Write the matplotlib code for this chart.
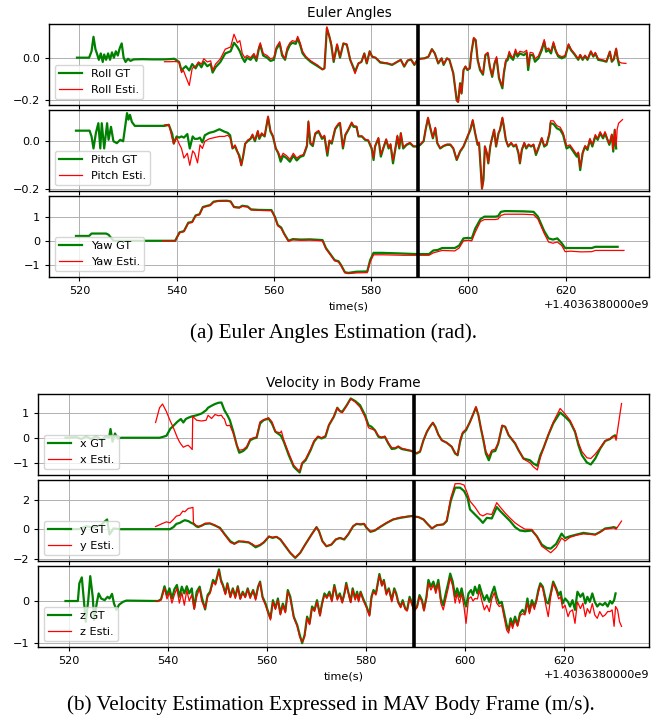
import numpy as np
import matplotlib.pyplot as plt

plt.rcParams['font.size'] = 8.1
plt.rcParams['axes.linewidth'] = 1.0
plt.rcParams['grid.linewidth'] = 0.7
plt.rcParams['xtick.major.size'] = 2.8
plt.rcParams['ytick.major.size'] = 2.8

TIME_OFFSET = "+1.4036380000e9"
SWITCH_T = 589.6   # vision switched on
XLIM = (513.75, 637.15)

# ---------------- Euler angles (rad) ----------------
t_roll = [519.5, 522.0, 522.5, 522.9, 523.3, 523.6, 524.0, 524.4, 524.8, 525.1,
          525.5, 525.9, 526.3, 526.7, 527.1, 527.5, 527.9, 528.3, 528.7, 529.1,
          529.5, 530.0, 530.5, 531.2, 533.0, 535.0, 537.5, 538.5, 539.5, 540.5,
          541.0, 541.4, 541.9, 542.6, 543.2, 543.9, 544.5, 545.1, 545.6, 546.3,
          547.0, 547.4, 548.0, 549.0, 550.0, 551.1, 551.8, 552.5, 553.0, 553.5,
          554.0, 554.5, 555.2, 555.9, 556.4, 556.9, 557.2, 557.8, 558.6, 559.3,
          560.0, 560.5, 561.2, 561.7, 562.3, 562.7, 563.3, 563.8, 564.5, 564.9,
          565.4, 565.9, 566.6, 567.6, 569.0, 570.0, 570.4, 570.9, 571.4, 571.8,
          572.3, 573.0, 573.6, 574.3, 575.0, 575.7, 576.7, 577.4, 578.0, 578.6,
          579.1, 579.7, 580.2, 580.9, 581.9, 583.3, 584.3, 585.4, 586.1, 586.8,
          587.5, 588.2, 588.9, 589.6, 591.0, 591.8, 592.5, 593.1, 593.8, 594.5,
          594.9, 595.6, 596.1, 596.9, 597.6, 597.9, 598.3, 598.6, 599.0, 599.4,
          599.8, 600.3, 600.6, 601.1, 601.5, 601.9, 602.4, 603.0, 603.5, 604.0,
          604.4, 604.9, 605.4, 605.8, 606.3, 607.0, 607.3, 607.7, 608.1, 608.4,
          608.8, 609.2, 609.7, 610.1, 610.6, 611.4, 612.0, 612.3, 612.7, 613.3,
          613.7, 614.4, 615.1, 615.6, 616.0, 616.5, 617.0, 617.5, 618.0, 618.5,
          619.2, 619.9, 620.6, 621.1, 621.9, 622.6, 623.0, 623.5, 624.0, 624.5,
          625.2, 625.7, 626.1, 626.7, 627.6, 628.4, 629.1, 629.5, 629.9, 630.4,
          630.7, 631.0, 631.5, 632.4]
roll_gt = [0.0, 0.0, 0.03, 0.098, 0.04, 0.02, -0.01, 0.02, -0.02, 0.015,
           -0.01, 0.02, -0.01, 0.025, 0.0, 0.03, 0.01, 0.045, 0.067, 0.0,
           -0.02, -0.005, -0.015, -0.008, -0.007, -0.008, -0.008, -0.007, -0.005, -0.02,
           -0.06, -0.05, -0.04, -0.06, -0.03, -0.05, -0.025, -0.045, -0.02, -0.04,
           -0.03, -0.07, -0.045, -0.02, 0.02, 0.03, 0.07, 0.05, 0.03, 0.0,
           -0.02, 0.0, -0.01, 0.01, -0.015, 0.04, 0.06, 0.01, 0.0, -0.015,
           -0.01, 0.04, 0.065, 0.01, -0.01, 0.03, 0.06, 0.07, 0.065, 0.09,
           0.06, 0.02, 0.0, -0.02, -0.04, -0.055, -0.05, 0.138, 0.1, 0.06,
           -0.02, 0.06, 0.0, 0.067, 0.06, -0.01, -0.065, -0.027, -0.02, 0.02,
           -0.027, 0.03, 0.005, 0.0, -0.023, -0.027, -0.034, -0.019, -0.01, -0.042,
           -0.014, -0.008, -0.034, -0.006, -0.003, 0.005, 0.04, 0.02, -0.027, -0.003,
           -0.034, -0.003, -0.01, -0.073, -0.2, -0.206, -0.12, -0.167, -0.058, -0.042,
           -0.058, -0.05, 0.02, 0.09, 0.082, -0.01, -0.058, -0.08, 0.012, 0.02,
           -0.042, -0.09, -0.027, -0.003, -0.097, -0.144, -0.073, -0.019, -0.01, 0.02,
           0.0, -0.01, 0.028, 0.005, 0.02, 0.012, 0.023, -0.058, 0.012, 0.012,
           -0.019, -0.003, 0.036, 0.075, 0.028, 0.036, 0.02, 0.067, 0.028, 0.005,
           -0.003, 0.005, 0.06, 0.036, 0.013, -0.01, 0.012, -0.01, 0.008, -0.01,
           0.028, 0.005, 0.02, -0.01, -0.014, -0.019, 0.028, -0.019, -0.008, 0.04,
           -0.005, -0.034, None, None]
roll_est = [None] * 26 + [
           -0.019, -0.019, -0.018, -0.02,
           -0.07, -0.06, -0.09, -0.13, -0.05, -0.04, -0.02, -0.03, -0.005, -0.02,
           -0.015, -0.06, -0.03, -0.005, 0.04, 0.05, 0.11, 0.07, 0.08, 0.02,
           0.0, 0.01, 0.0, 0.02, -0.005, 0.05, 0.07, 0.02, 0.01, -0.005,
           0.0, 0.05, 0.075, 0.02, -0.005, 0.045, 0.07, 0.08, 0.075, 0.1,
           0.07, 0.03, 0.005, -0.015, -0.035, -0.055, -0.05, 0.145, 0.1, 0.07,
           -0.015, 0.065, 0.005, 0.067, 0.065, -0.01, -0.075, -0.025, -0.02, 0.02,
           -0.025, 0.03, 0.005, 0.0, -0.02, -0.025, -0.032, -0.018, -0.01, -0.04,
           -0.012, -0.008, -0.032, -0.006, -0.003, 0.005, 0.04, 0.02, -0.025, -0.003,
           -0.03, -0.003, -0.01, -0.075, -0.2, -0.21, -0.12, -0.17, -0.058, -0.04,
           -0.055, -0.048, 0.02, 0.095, 0.085, -0.005, -0.05, -0.075, 0.015, 0.025,
           -0.035, -0.085, -0.02, 0.005, -0.09, -0.135, -0.065, -0.01, 0.0, 0.03,
           0.01, 0.0, 0.04, 0.015, 0.03, 0.025, 0.035, -0.04, 0.025, 0.022,
           -0.005, 0.008, 0.048, 0.085, 0.04, 0.045, 0.03, 0.075, 0.035, 0.012,
           0.005, 0.01, 0.065, 0.04, 0.018, -0.005, 0.015, -0.005, 0.012, -0.005,
           0.032, 0.008, 0.025, -0.005, -0.01, -0.015, 0.03, -0.015, -0.005, 0.045,
           0.0, -0.02, -0.025, -0.027]

t_pitch = [519.3, 522.1, 522.5, 522.9, 523.4, 523.9, 524.3, 524.6, 525.1, 525.7,
           526.0, 526.5, 527.0, 527.7, 528.4, 529.0, 529.4, 529.8, 530.1, 530.4,
           530.8, 531.4,
           537.5, 538.4, 539.1, 539.4, 540.0, 540.5, 541.0, 541.5, 542.2, 542.7,
           543.3, 543.7, 544.3, 544.8, 545.3, 545.8, 546.7, 547.7, 548.8, 549.8,
           550.5, 551.0, 551.5, 552.0, 552.4, 552.9, 553.3, 553.7, 554.1, 554.6,
           555.2, 555.6, 556.1, 556.7, 557.0, 557.5, 558.1, 558.8, 559.3, 559.8,
           560.4, 560.9, 561.4, 561.9, 562.6, 563.3, 564.0, 564.7, 565.4, 566.1,
           566.8, 567.1, 567.5, 568.0, 568.5, 569.2, 569.9, 570.4, 571.0, 571.4,
           571.9, 572.6, 573.3, 573.6, 574.2, 574.7, 575.3, 576.0, 576.4, 577.0,
           577.4, 578.1, 578.8, 579.4, 580.1, 580.5, 580.8, 581.5, 582.0, 582.5,
           583.1, 583.6, 584.0, 584.5, 585.0, 585.4, 585.8, 586.1, 586.6, 587.3,
           588.0, 588.7, 589.4, 590.1, 590.8, 591.2, 591.7, 592.1, 592.7, 593.2,
           593.6, 594.2, 594.9, 595.6, 596.3, 596.9, 597.6, 598.3, 599.0, 599.7,
           600.4, 600.9, 601.4, 601.9, 602.2, 602.5, 602.8, 603.1, 603.4, 603.8,
           604.1, 604.5, 604.8, 605.3, 605.7, 606.2, 606.5, 607.0, 607.3, 607.7,
           608.2, 608.8, 609.3, 609.8, 610.3, 610.6, 611.0, 611.5, 611.9, 612.4,
           612.9, 613.4, 613.9, 614.4, 615.1, 615.6, 616.1, 616.7, 616.9, 617.5,
           618.2, 618.9, 619.5, 620.2, 620.9, 621.6, 622.3, 622.6, 623.0, 623.5,
           624.0, 624.5, 625.0, 625.5, 626.1, 626.6, 627.1, 627.7, 628.1, 628.6,
           629.0, 629.5, 629.8, 630.1, 630.4, 630.6, 630.9, 631.7]
pitch_gt = [0.044, 0.044, 0.02, -0.03, 0.035, 0.075, -0.03, 0.075, -0.03, 0.075,
            0.006, 0.06, 0.0, -0.008, 0.006, 0.0, 0.06, 0.117, 0.09, 0.11,
            0.08, 0.064,
            0.064, 0.068, 0.03, -0.01, 0.02, 0.015, 0.02, 0.015, 0.03, -0.03,
            0.02, 0.01, 0.01, 0.015, -0.005, 0.025, 0.035, 0.04, 0.05, 0.04,
            0.035, 0.025, -0.03, -0.02, -0.04, -0.06, -0.1, -0.06, -0.01, 0.0,
            0.01, 0.025, 0.0, 0.04, 0.01, 0.03, 0.02, 0.1, 0.04, 0.02,
            -0.03, -0.05, -0.085, -0.06, -0.07, -0.085, -0.06, -0.08, -0.065, -0.06,
            -0.02, 0.08, -0.01, -0.02, 0.03, 0.04, 0.01, 0.02, -0.06, 0.0,
            -0.01, 0.05, 0.07, 0.075, -0.03, 0.025, 0.047, 0.075, 0.06, 0.06,
            0.02, 0.02, 0.005, 0.003, -0.03, -0.078, -0.022, 0.012, -0.064, -0.03,
            0.006, -0.03, -0.015, -0.092, -0.03, 0.02, -0.03, 0.033, -0.03, -0.015,
            -0.008, -0.022, -0.022, -0.015, 0.0, 0.047, 0.096, 0.06, 0.012, 0.054,
            -0.008, -0.03, -0.02, -0.015, -0.015, -0.03, -0.078, -0.043, -0.022, 0.012,
            0.047, 0.086, 0.033, -0.015, -0.008, -0.105, -0.196, -0.161, -0.022, -0.05,
            -0.092, -0.022, 0.006, 0.047, -0.022, 0.033, 0.047, 0.096, 0.06, 0.006,
            -0.022, -0.008, -0.022, -0.015, -0.05, -0.092, -0.036, -0.008, -0.03, -0.015,
            -0.022, -0.015, -0.057, -0.03, 0.012, -0.022, -0.015, 0.033, 0.075, 0.072,
            0.054, 0.047, 0.026, -0.03, -0.022, -0.043, -0.064, -0.05, -0.12, -0.05,
            -0.022, -0.036, 0.006, -0.022, 0.02, 0.006, 0.033, 0.012, 0.033, 0.006,
            -0.015, 0.026, -0.043, 0.047, -0.03, None, None, None]
pitch_est = [None] * 22 + [
            0.068, 0.07, 0.01, -0.01, 0.015, -0.01, -0.03, -0.07, -0.05, -0.1,
            -0.04, -0.05, -0.09, -0.015, -0.03, 0.0, 0.01, 0.015, 0.02, 0.02,
            0.025, 0.015, -0.03, -0.015, -0.035, -0.07, -0.1, -0.06, -0.01, 0.005,
            0.012, 0.03, 0.005, 0.045, 0.015, 0.035, 0.022, 0.105, 0.045, 0.025,
            -0.03, -0.045, -0.07, -0.05, -0.06, -0.075, -0.05, -0.07, -0.06, -0.055,
            -0.015, 0.085, -0.005, -0.015, 0.035, 0.045, 0.015, 0.025, -0.05, 0.005,
            -0.005, 0.055, 0.075, 0.078, -0.025, 0.03, 0.05, 0.08, 0.065, 0.062,
            0.022, 0.022, 0.008, 0.005, -0.025, -0.07, -0.02, 0.015, -0.055, -0.025,
            0.01, -0.025, -0.01, -0.08, -0.025, 0.025, -0.025, 0.035, -0.025, -0.012,
            -0.005, -0.02, -0.02, -0.012, 0.002, 0.05, 0.1, 0.065, 0.015, 0.058,
            -0.005, -0.028, -0.018, -0.012, -0.012, -0.028, -0.075, -0.04, -0.02, 0.015,
            0.05, 0.09, 0.035, -0.012, -0.005, -0.1, -0.2, -0.16, -0.02, -0.048,
            -0.09, -0.02, 0.008, 0.05, -0.02, 0.035, 0.05, 0.1, 0.065, 0.008,
            -0.02, -0.005, -0.02, -0.012, -0.045, -0.09, -0.032, -0.005, -0.025, -0.012,
            -0.02, -0.012, -0.05, -0.025, 0.015, -0.018, -0.01, 0.04, 0.085, 0.085,
            0.065, 0.058, 0.035, -0.02, -0.015, -0.035, -0.055, -0.045, -0.11, -0.045,
            -0.018, -0.03, 0.012, -0.015, 0.028, 0.012, 0.04, 0.018, 0.04, 0.01,
            -0.01, 0.03, -0.035, 0.05, -0.02, 0.05, 0.075, 0.09]

t_yaw = [519.3, 522.0, 522.5, 525.5, 526.0, 527.0,
         537.1, 539.7, 540.6, 541.5, 542.4, 543.2, 543.9, 544.7, 545.4, 546.3,
         546.9, 547.6, 548.5, 550.3, 551.1, 551.8, 552.9, 553.5, 554.6, 555.3,
         556.8, 559.5, 560.2, 560.8, 561.5, 562.1, 563.0, 563.9, 565.6, 567.4,
         570.0, 570.7, 571.6, 572.5, 573.3, 573.8, 574.6, 575.3, 577.0, 579.2,
         579.8, 580.5, 582.3, 586.7, 589.3, 591.9, 592.8, 593.7, 594.6, 597.2,
         598.1, 599.0, 599.9, 600.7, 601.4, 602.5, 603.3, 605.5, 606.1, 606.7,
         607.5, 611.2, 613.4, 614.3, 615.6, 616.5, 617.4, 618.3, 619.2, 619.9,
         621.0, 623.2, 625.4, 626.1, 630.7, 632.0]
yaw_gt = [0.2, 0.2, 0.3, 0.3, 0.25, 0.0,
          0.0, 0.0, 0.35, 0.4, 0.75, 0.78, 1.05, 1.1, 1.4, 1.45,
          1.48, 1.62, 1.65, 1.66, 1.63, 1.4, 1.38, 1.45, 1.42, 1.3,
          1.28, 1.27, 1.0, 0.65, 0.55, 0.3, 0.0, 0.07, 0.05, 0.06,
          0.03, -0.3, -0.55, -0.8, -0.85, -1.0, -1.3, -1.33, -1.28, -1.27,
          -0.8, -0.5, -0.5, -0.53, -0.55, -0.55, -0.4, -0.38, -0.3, -0.3,
          -0.2, 0.1, 0.12, 0.1, 0.5, 0.9, 1.0, 1.0, 1.02, 1.2,
          1.23, 1.22, 1.2, 1.0, 0.4, 0.1, 0.05, 0.1, -0.1, -0.3,
          -0.3, -0.3, -0.3, -0.25, -0.25, None]
yaw_est = [None] * 6 + [
          0.0, 0.0, 0.33, 0.38, 0.73, 0.76, 1.03, 1.08, 1.38, 1.43,
          1.46, 1.6, 1.64, 1.65, 1.62, 1.38, 1.36, 1.43, 1.4, 1.28,
          1.26, 1.25, 0.98, 0.62, 0.52, 0.28, -0.02, 0.04, 0.02, 0.03,
          0.0, -0.33, -0.58, -0.83, -0.88, -1.03, -1.33, -1.36, -1.33, -1.32,
          -0.88, -0.58, -0.58, -0.6, -0.6, -0.6, -0.5, -0.45, -0.4, -0.42,
          -0.3, 0.0, 0.02, 0.0, 0.35, 0.8, 0.88, 0.88, 0.9, 1.05,
          1.1, 1.1, 1.08, 0.9, 0.3, -0.05, -0.1, -0.05, -0.2, -0.45,
          -0.43, -0.46, -0.45, -0.4, -0.4, -0.4]

# ---------------- body-frame velocity (m/s) ----------------
t_vx = [519.3, 521.5, 522.5, 523.5, 524.5, 525.5, 526.5, 527.5, 528.1, 528.4,
        528.8, 529.3, 529.8, 530.6,
        537.5, 538.3, 538.9, 539.7, 540.5, 540.7, 541.2, 541.7, 541.9, 542.4,
        542.6, 543.1, 543.6, 544.1, 544.9, 545.0, 545.8, 546.8, 547.7, 548.1,
        548.8, 549.5, 550.2, 550.8, 551.1, 551.4, 551.8, 552.0, 552.5, 553.2,
        553.9, 554.4, 555.2, 555.9, 556.6, 557.3, 557.9, 558.6, 559.3, 560.3,
        561.0, 561.7, 562.7, 562.9, 563.4, 564.4, 565.4, 566.1, 566.6, 567.1,
        567.8, 568.8, 569.5, 570.3, 571.0, 571.8, 572.5, 573.5, 574.2, 574.7,
        575.2, 576.1, 576.9, 577.8, 578.8, 579.8, 580.5, 581.1, 581.8, 582.5,
        583.1, 583.8, 584.5, 585.2, 585.9, 586.5, 587.2, 588.2, 589.2, 590.2,
        590.9, 591.6, 592.3, 592.9, 593.5, 594.0, 594.6, 595.3, 596.3, 597.3,
        598.0, 598.5, 599.0, 599.5, 600.2, 601.0, 601.7, 602.2, 602.7, 603.2,
        603.7, 604.2, 604.8, 605.4, 606.1, 606.7, 607.5, 608.1, 608.8, 609.4,
        610.1, 610.8, 611.8, 613.1, 613.8, 614.6, 615.2, 615.8, 616.8, 617.8,
        619.2, 620.2, 621.2, 622.2, 622.9, 623.6, 624.6, 625.4, 626.3, 627.3,
        628.3, 629.3, 629.8, 630.3, 630.5, 631.6]
vx_gt = [0.0, 0.02, -0.05, 0.05, -0.05, 0.06, -0.08, 0.05, 0.0, 0.35,
         -0.16, 0.17, -0.03, 0.0,
         0.0, 0.0, 0.03, 0.08, 0.37, 0.4, 0.5, 0.6, 0.64, 0.72,
         0.75, 0.61, 0.75, 0.8, 0.86, 0.86, 0.9, 0.97, 1.1, 1.2,
         1.28, 1.35, 1.4, 1.41, 1.25, 1.1, 0.97, 0.9, 0.7, 0.24,
         -0.3, -0.6, -0.53, -0.4, -0.1, -0.03, 0.0, 0.57, 0.7, 0.77,
         0.57, 0.24, 0.1, 0.05, -0.16, -0.7, -1.16, -1.3, -1.39, -1.03,
         -0.9, -0.5, -0.16, 0.04, -0.03, 0.04, 0.5, 0.84, 1.2, 1.07,
         1.04, 1.3, 1.57, 1.47, 1.3, 0.9, 0.5, 0.44, 0.3, 0.04,
         0.0, 0.04, -0.23, -0.45, -0.43, -0.36, -0.45, -0.49, -0.53, -0.63,
         -0.56, -0.1, 0.24, 0.44, 0.6, 0.44, 0.13, -0.1, -0.2, -0.36,
         -0.63, -0.7, -0.16, 0.17, 0.3, 0.64, 0.97, 1.21, 0.9, 0.37,
         -0.1, -0.63, -0.9, -0.56, -0.53, -0.23, 0.48, 0.44, 0.1, -0.05,
         -0.23, -0.5, -0.83, -0.9, -1.03, -1.12, -0.7, -0.43, 0.1, 0.57,
         1.01, 0.84, 0.64, 0.24, -0.3, -0.7, -0.99, -1.07, -0.83, -0.43,
         -0.13, -0.05, 0.04, 0.1, 0.0, None]
vx_est = [None] * 14 + [
         0.61, 1.2, 1.35, 1.04, 0.65, 0.57, 0.35, 0.1, 0.0, -0.19,
         -0.25, -0.38, -0.33, -0.3, -0.47, 0.85, 0.7, 0.67, 0.7, 0.9,
         0.77, 0.93, 0.88, 0.9, 0.8, 0.75, 0.5, 0.48, 0.5, 0.17,
         -0.3, -0.5, -0.47, -0.35, -0.05, 0.0, 0.03, 0.64, 0.72, 0.8,
         0.64, 0.24, 0.2, 0.27, -0.1, -0.62, -1.1, -1.25, -1.33, -1.0,
         -0.85, -0.45, -0.12, 0.06, 0.0, 0.08, 0.52, 0.86, 1.2, 1.05,
         1.0, 1.28, 1.55, 1.43, 1.22, 0.83, 0.4, 0.35, 0.3, 0.08,
         0.02, 0.06, -0.2, -0.4, -0.4, -0.33, -0.42, -0.47, -0.52, -0.6,
         -0.55, -0.1, 0.25, 0.45, 0.6, 0.42, 0.12, -0.1, -0.2, -0.35,
         -0.6, -0.68, -0.1, 0.22, 0.35, 0.62, 0.97, 1.25, 0.9, 0.4,
         -0.05, -0.55, -0.75, -0.5, -0.45, -0.2, 0.5, 0.45, 0.12, -0.03,
         -0.2, -0.48, -0.85, -1.0, -1.16, -1.29, -0.8, -0.45, 0.12, 0.62,
         1.17, 0.95, 0.7, 0.28, -0.2, -0.55, -0.8, -0.83, -0.65, -0.4,
         -0.12, -0.03, 0.05, 0.05, -0.1, 1.37]

t_vy = [519.3, 522.0, 523.5, 525.0, 526.5, 527.7, 528.2, 529.0, 530.3,
        537.5, 538.7, 539.7, 540.4, 541.1, 541.7, 542.4, 543.0, 543.4, 544.1,
        544.7, 545.05, 545.15, 545.7, 546.1, 546.8, 547.5, 548.5, 549.5, 550.5,
        551.5, 552.6, 553.4, 554.3, 555.3, 556.3, 557.0, 557.7, 558.6, 559.4,
        560.4, 561.1, 561.9, 562.7, 563.7, 564.7, 565.7, 566.7, 567.7, 569.0,
        570.0, 570.5, 571.2, 572.0, 573.0, 573.9, 574.7, 575.6, 576.4, 577.4,
        578.1, 578.9, 579.6, 580.1, 580.9, 581.8, 582.8, 584.2, 585.5, 586.9,
        588.2, 589.2, 590.6, 591.6, 592.4, 593.3, 594.3, 595.6, 596.3, 597.1,
        598.0, 599.0, 599.8, 600.5, 601.0, 602.0, 603.0, 603.6, 604.4, 605.4,
        606.4, 607.1, 608.1, 609.1, 610.1, 611.1, 612.1, 613.5, 614.5, 615.5,
        616.5, 617.3, 618.4, 619.5, 620.2, 621.2, 622.6, 623.9, 625.3, 626.3,
        627.3, 628.3, 629.3, 630.0, 630.5, 631.6]
vy_gt = [0.0, 0.0, 0.2, 0.1, 0.3, 0.66, -0.36, 0.05, 0.0,
         0.0, 0.0, 0.0, 0.0, 0.14, 0.36, 0.43, 0.55, 0.61, 0.55,
         0.43, 0.38, 0.36, 0.2, 0.14, 0.25, 0.36, 0.39, 0.25, 0.09,
         -0.36, -0.82, -0.98, -0.82, -0.86, -0.9, -1.05, -1.23, -1.09, -0.89,
         -0.5, -0.59, -0.52, -0.7, -1.16, -1.61, -1.95, -1.61, -1.05, -0.36,
         0.14, -0.14, -0.82, -1.16, -1.05, -0.7, -0.6, -0.7, -0.36, 0.2,
         0.36, 0.32, 0.36, 0.09, -0.18, -0.09, 0.14, 0.43, 0.66, 0.77,
         0.84, 0.89, 0.82, 0.66, 0.36, 0.05, 0.27, 0.32, 0.55, 1.91,
         2.82, 2.82, 2.59, 2.14, 1.34, 1.0, 0.66, 0.43, 0.77, 0.73,
         1.5, 1.23, 0.89, 0.55, 0.14, -0.09, -0.14, -0.09, -0.48, -1.05,
         -1.27, -1.32, -1.0, -0.3, -0.6, -0.48, -0.36, -0.25, -0.32, -0.36,
         -0.18, 0.05, 0.09, 0.14, 0.09, None]
vy_est = [None] * 9 + [
         0.18, 0.36, 0.5, 0.43, 0.66, 0.89, 0.95, 1.23, 1.18, 1.41,
         1.45, 1.48, 0.43, 0.25, 0.2, 0.22, 0.4, 0.4, 0.27, 0.05,
         -0.4, -0.9, -1.02, -0.85, -0.82, -0.88, -1.0, -1.15, -1.05, -0.85,
         -0.48, -0.55, -0.5, -0.68, -1.12, -1.6, -1.93, -1.6, -1.05, -0.36,
         0.14, -0.14, -0.82, -1.16, -1.02, -0.68, -0.58, -0.66, -0.33, 0.22,
         0.38, 0.35, 0.38, 0.12, -0.16, -0.06, 0.16, 0.45, 0.68, 0.8,
         0.87, 0.9, 0.82, 0.66, 0.36, 0.05, 0.28, 0.34, 0.6, 2.1,
         3.09, 3.09, 3.0, 2.4, 1.9, 1.5, 1.0, 0.9, 1.05, 1.0,
         1.8, 1.5, 1.1, 0.75, 0.43, 0.2, 0.0, -0.02, -0.5, -1.16,
         -1.4, -1.6, -1.25, -0.6, -0.8, -0.55, -0.4, -0.32, -0.35, -0.38,
         -0.2, 0.02, 0.05, 0.1, 0.0, 0.55]

t_vz = [519.3, 521.8, 522.1, 522.6, 523.0, 523.4, 523.9, 524.3, 524.8, 525.1,
        525.6, 526.0, 526.5, 527.2, 527.8, 528.2, 528.7, 529.1, 529.6, 530.1,
        530.9, 531.6,
        537.5, 538.0, 538.6, 539.3, 539.8, 540.3, 540.8, 541.3, 541.8, 542.3,
        542.8, 543.3, 543.8, 544.3, 544.8, 545.3, 545.8, 546.4, 546.8, 547.5,
        548.0, 548.5, 549.1, 549.6, 550.3, 550.7, 551.1, 551.6, 552.0, 552.6,
        553.1, 553.6, 554.1, 554.6, 555.1, 555.6, 556.1, 556.6, 557.2, 557.7,
        558.2, 558.6, 559.1, 559.7, 560.1, 560.7, 561.2, 561.7, 562.2, 562.7,
        563.2, 563.7, 564.2, 564.7, 565.4, 566.1, 566.6, 567.1, 567.6, 568.1,
        568.6, 569.1, 569.6, 570.1, 570.7, 571.1, 571.6, 572.1, 572.6, 573.1,
        573.6, 574.2, 574.7, 575.2, 575.7, 576.0, 576.4, 576.9, 577.3, 577.8,
        578.2, 578.5, 578.9, 579.4, 580.1, 580.7, 581.1, 581.5, 582.0, 582.7,
        583.2, 583.6, 584.1, 584.6, 585.2, 585.7, 586.1, 586.5, 587.0, 587.4,
        587.9, 588.3, 588.8, 589.3, 589.7, 590.3, 590.8, 591.3, 591.7, 592.2,
        592.6, 593.1, 593.6, 594.1, 594.6, 595.1, 595.6, 596.1, 596.6, 597.0,
        597.5, 598.0, 598.4, 598.9, 599.3, 599.8, 600.2, 600.7, 601.2, 601.6,
        602.0, 602.5, 602.9, 603.4, 603.9, 604.4, 604.9, 605.4, 605.9, 606.4,
        606.9, 607.4, 607.9, 608.4, 608.8, 609.2, 609.6, 610.1, 610.6, 611.1,
        611.6, 612.1, 612.6, 613.0, 613.5, 614.0, 614.4, 614.8, 615.2, 615.7,
        616.0, 616.4, 616.8, 617.3, 617.8, 618.4, 618.9, 619.3, 619.7, 620.2,
        620.8, 621.2, 621.7, 622.2, 622.7, 623.3, 623.8, 624.3, 624.7, 625.2,
        625.7, 626.2, 626.7, 627.2, 627.8, 628.3, 628.8, 629.3, 629.7, 630.1,
        630.4, 630.8, 631.2, 631.6]
vz_gt = [0.0, 0.0, 0.42, 0.56, 0.02, -0.49, 0.02, 0.59, 0.1, -0.45,
         -0.06, 0.18, 0.06, 0.02, 0.1, 0.06, 0.17, -0.06, -0.21, -0.09,
         -0.02, 0.01,
         0.0, 0.0, 0.04, 0.35, 0.14, 0.3, 0.06, 0.28, 0.38, 0.1,
         0.34, 0.18, 0.35, 0.18, 0.3, -0.17, 0.22, 0.34, 0.1, -0.2,
         0.14, 0.22, 0.5, 0.42, 0.75, 0.5, 0.38, 0.18, 0.42, 0.1,
         0.3, 0.1, 0.35, 0.06, 0.22, 0.1, 0.3, 0.1, 0.26, 0.06,
         0.34, 0.46, 0.1, -0.06, -0.21, -0.41, 0.02, -0.17, 0.06, -0.3,
         -0.06, -0.25, 0.26, 0.1, -0.37, -0.57, -0.8, -1.0, -0.8, -0.37,
         -0.53, -0.13, -0.21, 0.02, -0.33, -0.06, 0.18, 0.1, 0.22, 0.02,
         0.38, 0.06, 0.18, -0.02, 0.22, 0.43, 0.22, -0.02, 0.3, 0.06,
         0.22, 0.02, 0.22, 0.06, -0.13, -0.33, 0.1, 0.26, 0.18, 0.64,
         0.38, 0.5, 0.18, 0.3, 0.02, 0.3, 0.18, -0.02, -0.13, 0.02,
         -0.17, -0.21, 0.1, -0.06, -0.21, -0.13, 0.14, 0.02, -0.21, 0.1,
         0.5, 0.34, 0.46, 0.26, 0.5, 0.06, -0.1, 0.18, 0.42, 0.65,
         0.46, 0.1, 0.3, 0.1, 0.3, 0.02, -0.13, 0.18, 0.26, 0.14,
         0.34, 0.18, 0.38, 0.18, 0.02, 0.14, -0.02, 0.18, 0.34, 0.1,
         -0.06, -0.02, -0.29, -0.57, -0.69, -0.41, -0.57, -0.37, -0.57, -0.29,
         -0.21, -0.29, 0.06, -0.25, 0.02, -0.13, 0.02, 0.26, 0.42, 0.34,
         0.18, -0.02, -0.06, 0.18, 0.46, 0.3, 0.14, 0.22, -0.06, 0.06,
         -0.02, -0.13, 0.02, -0.21, 0.22, 0.1, 0.18, -0.06, 0.1, -0.02,
         0.18, -0.02, -0.13, -0.06, -0.1, -0.04, -0.13, 0.0, -0.06, 0.02,
         0.18, None, None, None]
vz_est = [None] * 22 + [
         0.0, 0.0, 0.02, 0.3, 0.05, 0.2, -0.05, 0.15, 0.3, -0.05,
         0.2, -0.1, 0.25, 0.0, 0.15, -0.2, 0.1, 0.3, 0.0, -0.18,
         0.1, 0.18, 0.45, 0.38, 0.72, 0.45, 0.35, 0.15, 0.4, 0.08,
         0.28, 0.06, 0.33, 0.04, 0.2, 0.08, 0.28, 0.06, 0.24, 0.02,
         0.32, 0.44, 0.06, -0.1, -0.25, -0.45, -0.02, -0.2, 0.02, -0.33,
         -0.1, -0.28, 0.22, 0.06, -0.4, -0.6, -0.85, -0.97, -0.85, -0.4,
         -0.56, -0.17, -0.25, -0.02, -0.36, -0.1, 0.14, 0.06, 0.18, -0.02,
         0.35, 0.02, 0.15, -0.05, 0.18, 0.4, 0.2, -0.04, 0.27, 0.02,
         0.18, -0.02, 0.2, 0.02, -0.16, -0.36, 0.06, 0.22, 0.14, 0.6,
         0.35, 0.48, 0.14, 0.28, -0.02, 0.26, 0.14, -0.05, -0.16, -0.02,
         -0.2, -0.24, 0.06, -0.1, -0.24, -0.16, 0.1, -0.02, -0.24, 0.06,
         0.42, 0.26, 0.38, 0.18, 0.42, -0.05, -0.21, 0.05, 0.3, 0.55,
         0.35, -0.05, 0.18, -0.05, 0.18, -0.15, -0.53, 0.05, 0.1, 0.0,
         0.06, 0.05, 0.25, 0.0, -0.21, -0.1, -0.25, 0.05, 0.2, -0.05,
         -0.13, -0.1, -0.4, -0.69, -0.76, -0.5, -0.65, -0.45, -0.6, -0.35,
         -0.3, -0.33, -0.05, -0.3, -0.05, -0.2, -0.02, 0.2, 0.38, 0.3,
         0.1, -0.15, -0.37, 0.1, 0.42, 0.25, 0.05, 0.1, -0.17, -0.1,
         -0.37, -0.25, -0.21, -0.53, -0.02, -0.18, -0.05, -0.37, -0.18, -0.29,
         -0.06, -0.33, -0.41, -0.25, -0.37, -0.33, -0.25, -0.25, -0.21, -0.6,
         -0.13, -0.21, -0.49, -0.6]


fig = plt.figure(figsize=(6.67, 7.2), dpi=100)
W, H = 667.0, 720.0


def add_panel(left, top, right, bottom):
    # axes placed in pixel units of the final image
    return fig.add_axes([left / W, 1 - bottom / H, (right - left) / W, (bottom - top) / H])


def draw(ax, t, gt, est, name, yticks, ylim):
    ax.plot(t, np.array(gt, dtype=float), color='g', lw=1.6, label=name + ' GT')
    ax.plot(t, np.array(est, dtype=float), color='r', lw=0.9, label=name + ' Esti.')
    ax.axvline(SWITCH_T, color='k', lw=2.6)
    ax.set_xlim(*XLIM)
    ax.set_ylim(*ylim)
    ax.set_yticks(yticks)
    ax.set_xticks([520, 540, 560, 580, 600, 620])
    ax.grid(True)
    ax.legend(loc='lower left')


ax_roll = add_panel(49, 24, 649, 105)
ax_pitch = add_panel(49, 110, 649, 191)
ax_yaw = add_panel(49, 196, 649, 277)
draw(ax_roll, t_roll, roll_gt, roll_est, 'Roll', [-0.2, 0.0], (-0.222, 0.158))
draw(ax_pitch, t_pitch, pitch_gt, pitch_est, 'Pitch', [-0.2, 0.0], (-0.207, 0.13))
draw(ax_yaw, t_yaw, yaw_gt, yaw_est, 'Yaw', [-1, 0, 1], (-1.5, 1.855))
ax_roll.set_title('Euler Angles', pad=4.9)

ax_vx = add_panel(38, 394, 649, 475)
ax_vy = add_panel(38, 480, 649, 561)
ax_vz = add_panel(38, 566, 649, 647)
draw(ax_vx, t_vx, vx_gt, vx_est, 'x', [-1, 0, 1], (-1.49, 1.75))
draw(ax_vy, t_vy, vy_gt, vy_est, 'y', [-2, 0, 2], (-2.16, 3.34))
draw(ax_vz, t_vz, vz_gt, vz_est, 'z', [-1, 0], (-1.09, 0.83))
ax_vx.set_title('Velocity in Body Frame', pad=4.9)

for ax in [ax_roll, ax_pitch, ax_vx, ax_vy]:
    ax.tick_params(labelbottom=False)

for ax in [ax_yaw, ax_vz]:
    ax.set_xlabel('time(s)')
    ax.annotate(TIME_OFFSET, xy=(1, 0), xycoords='axes fraction',
                xytext=(0, -20.5), textcoords='offset points',
                ha='right', va='center')

fig.text(333 / W, 1 - 333 / H, '(a) Euler Angles Estimation (rad).',
         ha='center', va='center', family='Liberation Serif', size=15.2)
fig.text(331 / W, 1 - 705 / H, '(b) Velocity Estimation Expressed in MAV Body Frame (m/s).',
         ha='center', va='center', family='Liberation Serif', size=15.2)

fig.savefig('out.png', dpi=100)
